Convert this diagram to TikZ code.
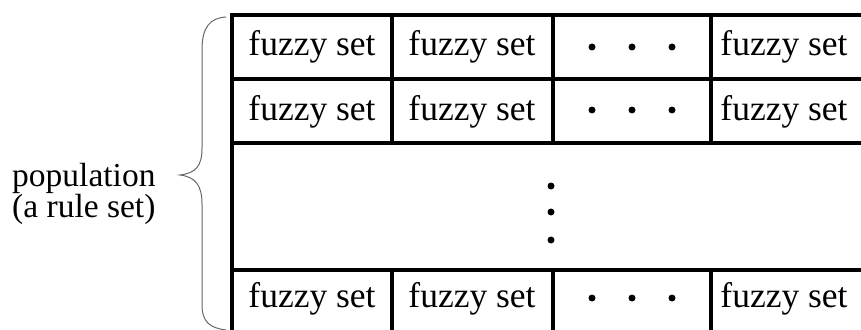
\documentclass[tikz,border=0pt]{standalone}
\usepackage{fontspec}
\setmainfont{Liberation Serif}
\begin{document}
\begin{tikzpicture}[x=1pt,y=-1pt,
  rule/.style={line width=4.6pt, line join=miter},
  cell/.style={font=\fontsize{35.5}{40}\selectfont, anchor=base, inner sep=0pt},
  lbl/.style={font=\fontsize{33.5}{40}\selectfont, anchor=base west, inner sep=0pt},
  dot/.style={circle, fill=black, inner sep=0pt, minimum size=7pt},
  brace/.style={draw=black!60, line width=1pt}]
\useasboundingbox (0,0) rectangle (861,329);
\clip (0,0) rectangle (861,329);

% outer frame (continues past the right and bottom edges)
\draw[rule] (890,15) -- (232,15) -- (232,345);
% row separators
\foreach \y in {79,143,270} \draw[rule] (232,\y) -- (890,\y);
% column separators in the two top rows and the last row
\foreach \x in {392,553,711} {
  \draw[rule] (\x,15) -- (\x,143);
  \draw[rule] (\x,270) -- (\x,345);
}

% cells
\foreach \r/\b in {1/56,2/120,3/307} {
  \node[cell] (c\r a) at (312,\b) {fuzzy set};
  \node[cell] (c\r b) at (472,\b) {fuzzy set};
  \node[cell] (c\r d) at (784,\b) {fuzzy set};
}
\foreach \r/\y in {1/47,2/110,3/298} {
  \node[dot] (d\r a) at (592,\y) {};
  \node[dot] (d\r b) at (632,\y) {};
  \node[dot] (d\r c) at (672,\y) {};
}
% vertical ellipsis in the middle block
\node[dot] (v1) at (551,186) {};
\node[dot] (v2) at (551,212) {};
\node[dot] (v3) at (551,240) {};

% brace and its label
\draw[brace] (226,17) .. controls (210,18) and (202,27) .. (202,50)
  -- (202,148) .. controls (202,166) and (196,173) .. (180,175)
  .. controls (196,177) and (202,186) .. (202,204)
  -- (202,305) .. controls (202,322) and (210,328) .. (226,330);
\node[lbl] (pop) at (12,186) {population};
\node[lbl] (rs) at (12,217) {(a rule set)};
\end{tikzpicture}
\end{document}
